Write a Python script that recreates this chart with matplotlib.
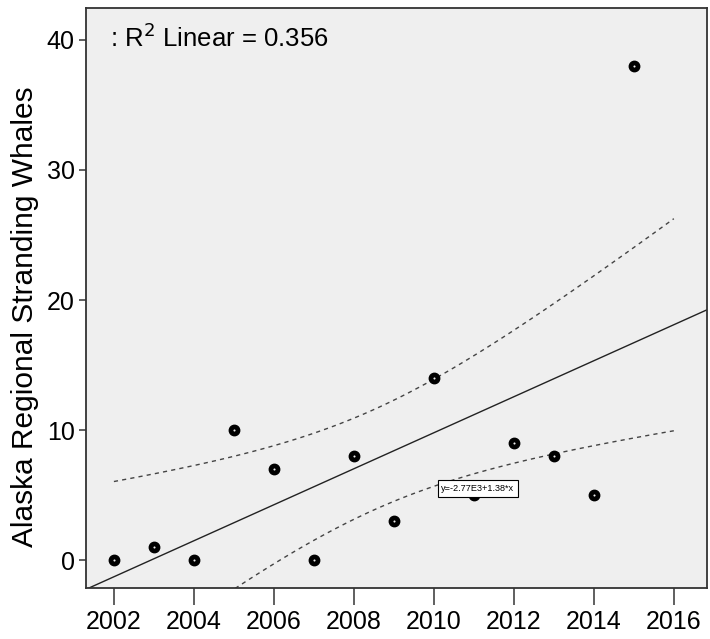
import matplotlib.pyplot as plt
import numpy as np

plt.rcParams['font.family'] = ['Liberation Sans', 'DejaVu Sans']

years = [2002, 2003, 2004, 2005, 2006, 2007, 2008, 2009, 2010, 2011, 2012, 2013, 2014, 2015]
whales = [0, 1, 0, 10, 7, 0, 8, 3, 14, 5, 9, 8, 5, 38]
x_ticks = [2002, 2004, 2006, 2008, 2010, 2012, 2014, 2016]
y_ticks = [0, 10, 20, 30, 40]

x = np.array(years, dtype=float)
y = np.array(whales, dtype=float)

# linear fit + confidence band of the mean
slope, intercept = np.polyfit(x, y, 1)
n = len(x)
resid = y - (intercept + slope * x)
s = np.sqrt(np.sum(resid ** 2) / (n - 2))
sxx = np.sum((x - x.mean()) ** 2)
t = 1.782  # t(0.95, 12 df)
r2 = 1 - np.sum(resid ** 2) / np.sum((y - y.mean()) ** 2)

fig = plt.figure(figsize=(7.1, 6.39), dpi=100)
ax = fig.add_axes([0.121, 0.0798, 0.8748, 0.9077])
ax.set_facecolor('#efefef')

xl = np.array([2001.3, 2016.83])
ax.plot(xl, intercept + slope * xl, color='#222222', lw=1.0)

xc = np.linspace(2002, 2016, 100)
half = t * s * np.sqrt(1 / n + (xc - x.mean()) ** 2 / sxx)
fit = intercept + slope * xc
ax.plot(xc, fit + half, color='#444444', lw=1, ls=(0, (3, 3)))
ax.plot(xc, fit - half, color='#444444', lw=1, ls=(0, (3, 3)))

ax.plot(x, y, 'o', ms=7.5, mfc='black', mec='black', ls='none', zorder=3)
ax.plot(x, y, 'o', ms=1.5, mfc='#eeeeee', mec='none', ls='none', zorder=3)

ax.text(2011.1, 5.5, 'y=-2.77E3+1.38*x', fontsize=6.6, ha='center', va='center',
        bbox=dict(boxstyle='square,pad=0.4', fc='white', ec='black', lw=0.8), zorder=4)

ax.text(2001.9, 40.2, ': R$^2$ Linear = %.3f' % r2, fontsize=18.5, ha='left', va='center')

ax.set_xlim(2001.3, 2016.83)
ax.set_ylim(-2.15, 42.46)
ax.set_xticks(x_ticks)
ax.set_yticks(y_ticks)
ax.tick_params(axis='x', length=12, width=1.2, labelsize=18, pad=4, color='#444444')
ax.tick_params(axis='y', length=5, width=1.2, labelsize=18, pad=3, color='#444444')
for sp in ax.spines.values():
    sp.set_color('#333333')
    sp.set_linewidth(1.3)

ax.set_ylabel('Alaska Regional Stranding Whales', fontsize=21.5)
ax.yaxis.set_label_coords(-0.076, 0.467)

plt.savefig('out.png', dpi=100)
